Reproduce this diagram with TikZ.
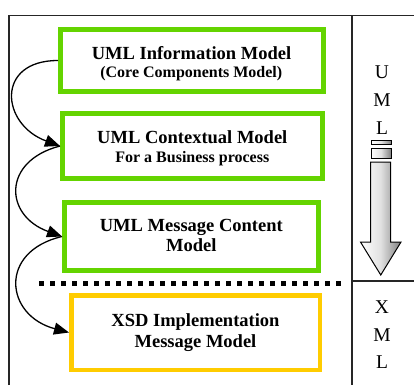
\documentclass[tikz,border=0pt]{standalone}
\usepackage{fontspec}
\setmainfont{Liberation Serif}
\usetikzlibrary{arrows.meta}
\definecolor{boxgreen}{RGB}{100,212,0}
\definecolor{boxyellow}{RGB}{255,204,0}
\begin{document}
\begin{tikzpicture}[x=1pt,y=-1pt,
  modelbox/.style={draw, line width=5pt, inner sep=0pt},
  greenbox/.style={modelbox, draw=boxgreen},
  yellowbox/.style={modelbox, draw=boxyellow, line width=4.5pt},
  bigline/.style={anchor=base, inner sep=0pt, font=\bfseries\fontsize{18.5}{19}\selectfont},
  smallline/.style={anchor=base, inner sep=0pt, font=\bfseries\fontsize{16}{18}\selectfont},
  flow/.style={line width=1.3pt, -{Triangle[length=15pt,width=12pt]}},
  frameline/.style={line width=1.2pt, draw=black!85},
  letter/.style={font=\fontsize{19.5}{20}\selectfont, inner sep=0pt},
  bigarrow/.style={draw=black, line width=1pt, left color=white, right color=black!50, middle color=black!12},
]
\useasboundingbox (0,0) rectangle (414,385);

% frame
\draw[frameline] (9,385) -- (9,15.5) -- (414,15.5);
\draw[frameline] (352,16) -- (352,385);
\draw[frameline] (352,281) -- (414,281);

% boxes
\node[greenbox, minimum width=263pt, minimum height=62pt] (b1) at (192,60.5) {};
\node[greenbox, minimum width=260pt, minimum height=65pt] (b2) at (192.5,146) {};
\node[greenbox, minimum width=254pt, minimum height=68pt] (b3) at (191.5,236.5) {};
\node[yellowbox, minimum width=248.5pt, minimum height=74.5pt] (b4) at (195.5,332.5) {};

% box texts
\node[bigline]   (t1a) at (191.5,59.3)  {UML Information Model};
\node[smallline] (t1b) at (191.3,77.5)  {(Core Components Model)};
\node[bigline]   (t2a) at (192.3,143.3) {UML Contextual Model};
\node[smallline] (t2b) at (192.3,162.3) {For a Business process};
\node[bigline]   (t3a) at (191.3,231.7) {UML Message Content};
\node[bigline]   (t3b) at (191.3,251.7) {Model};
\node[bigline]   (t4a) at (195.5,326)   {XSD Implementation};
\node[bigline]   (t4b) at (195.5,347.3) {Message Model};

% dotted separator
\draw[line width=5pt, dash pattern=on 5pt off 6pt] (39,283) -- (344,283);

% flow arrows
\draw[flow] (b1.west) .. controls +(-63,0) and +(-59,-21.5) .. (b2.west);
\draw[flow] (b2.west) .. controls +(-58,15) and +(-58,-21) .. (b3.west);
\draw[flow] (b3.west) .. controls +(-64,15) and +(-64,-17) .. (b4.west);

% right column letters
\node[letter] (u1) at (382,72) {U};
\node[letter] (m1) at (382,100) {M};
\node[letter] (l1) at (382,128) {L};
\node[letter] (x2) at (382,307) {X};
\node[letter] (m2) at (382,335) {M};
\node[letter] (l2) at (382,362) {L};

% big gray arrow
\path[bigarrow] (371,140) rectangle (391,144);
\path[bigarrow] (371,148) rectangle (391,158);
\path[bigarrow] (370.5,162) -- (390.5,162) -- (390.5,242) -- (401,242) -- (380.75,275)
  -- (360.5,242) -- (370.5,242) -- cycle;
\end{tikzpicture}
\end{document}
